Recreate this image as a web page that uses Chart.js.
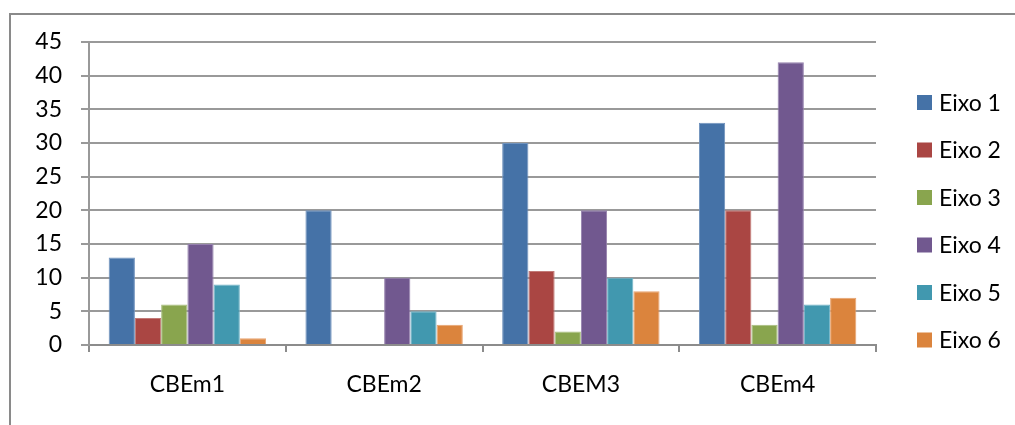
<!DOCTYPE html>
<html>
<head>
<meta charset="utf-8">
<script src="https://cdn.jsdelivr.net/npm/chart.js@4.4.1/dist/chart.umd.min.js"></script>
<style>
  html, body { margin: 0; padding: 0; background: #ffffff; }
  #wrap { width: 1015px; height: 425px; position: relative; }
</style>
</head>
<body>
<div id="wrap"><canvas id="chart" width="1015" height="425"></canvas></div>
<script>
// Categories and series values
const categories = ['CBEm1', 'CBEm2', 'CBEM3', 'CBEm4'];
const seriesNames = ['Eixo 1', 'Eixo 2', 'Eixo 3', 'Eixo 4', 'Eixo 5', 'Eixo 6'];
const eixo1 = [13, 20, 30, 33];
const eixo2 = [4, 0, 11, 20];
const eixo3 = [6, 0, 2, 3];
const eixo4 = [15, 10, 20, 42];
const eixo5 = [9, 5, 10, 6];
const eixo6 = [1, 3, 8, 7];
const yTicks = [0, 5, 10, 15, 20, 25, 30, 35, 40, 45];

const seriesValues = [eixo1, eixo2, eixo3, eixo4, eixo5, eixo6];
const fills = ['#4572A7', '#AA4643', '#89A54E', '#71588F', '#4198AF', '#DB843D'];
const edges = ['#6f92bd', '#c27a77', '#a6bd7c', '#9580ad', '#72b4c7', '#e8a470'];

const FONT = 'Lato, "Open Sans", sans-serif';
const FONT_SIZE = 23;

// White page with the grey frame around the chart object
const framePlugin = {
  id: 'frame',
  beforeDraw(chart) {
    const ctx = chart.ctx;
    ctx.save();
    ctx.fillStyle = '#ffffff';
    ctx.fillRect(0, 0, chart.width, chart.height);
    ctx.strokeStyle = '#8a8a8a';
    ctx.lineWidth = 2;
    ctx.strokeRect(10, 14, chart.width + 50, chart.height + 50);
    ctx.restore();
  }
};

// Legend column on the right, built from the datasets
const sideLegend = {
  id: 'sideLegend',
  afterDraw(chart) {
    const ctx = chart.ctx;
    const x0 = 917, box = 15, firstRow = 102.5, step = 47.5;
    ctx.save();
    ctx.font = FONT_SIZE + 'px ' + FONT;
    ctx.textBaseline = 'middle';
    ctx.textAlign = 'left';
    chart.data.datasets.forEach((ds, i) => {
      const cy = firstRow + i * step;
      ctx.fillStyle = ds.backgroundColor;
      ctx.fillRect(x0, cy - box / 2, box, box);
      ctx.fillStyle = '#000000';
      ctx.fillText(ds.label, x0 + box + 7, cy + 1);
    });
    ctx.restore();
  }
};

const datasets = seriesNames.map((name, i) => ({
  label: name,
  data: seriesValues[i],
  backgroundColor: fills[i],
  borderColor: edges[i],
  borderWidth: 1,
  categoryPercentage: 0.8,
  barPercentage: 1.0
}));

new Chart(document.getElementById('chart'), {
  type: 'bar',
  data: { labels: categories, datasets },
  plugins: [framePlugin, sideLegend],
  options: {
    responsive: false,
    animation: false,
    devicePixelRatio: 1,
    layout: { padding: { top: 42, right: 139, bottom: 0, left: 0 } },
    plugins: {
      legend: { display: false },
      tooltip: { enabled: false }
    },
    scales: {
      x: {
        grid: {
          offset: true,
          drawOnChartArea: false,
          drawTicks: true,
          tickLength: 7,
          color: '#8c8c8c',
          lineWidth: 2
        },
        border: { display: true, color: '#8c8c8c', width: 2 },
        ticks: {
          color: '#000000',
          font: { family: FONT, size: FONT_SIZE },
          padding: 19,
          maxRotation: 0
        },
        afterFit(scale) { scale.height = 80; }
      },
      y: {
        min: 0,
        max: 45,
        afterBuildTicks(scale) { scale.ticks = yTicks.map(v => ({ value: v })); },
        grid: {
          drawTicks: true,
          tickLength: 8,
          color: '#999999',
          lineWidth: 2
        },
        border: { display: true, color: '#999999', width: 2 },
        ticks: {
          color: '#000000',
          font: { family: FONT, size: FONT_SIZE },
          padding: 19
        },
        afterFit(scale) { scale.width = 89; }
      }
    }
  }
});
</script>
</body>
</html>
